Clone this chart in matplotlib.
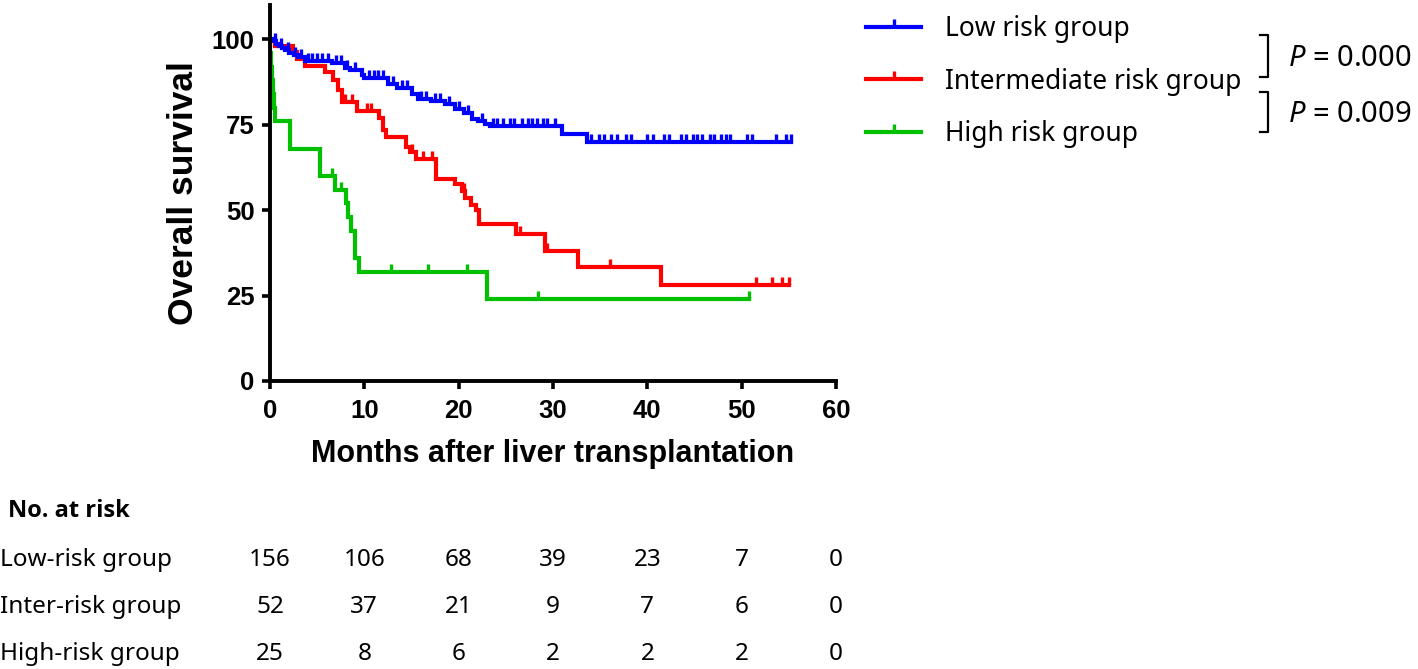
import numpy as np
import matplotlib
matplotlib.use("Agg")
import matplotlib.pyplot as plt
from matplotlib.path import Path
from matplotlib.lines import Line2D
from matplotlib import transforms

# ---- data ---------------------------------------------------------------
groups = ["Low risk group", "Intermediate risk group", "High risk group"]
colors = ["#0000FF", "#FF0000", "#00C000"]

low_t = [0, 0.3, 0.6, 1.0, 1.3, 1.6, 2.0, 2.5, 3.0, 3.7, 6.6, 7.9, 8.5, 9.7,
         10.0, 12.5, 13.5, 15.0, 15.7, 17.1, 18.5, 19.6, 20.6, 21.4, 22.0,
         22.8, 23.3, 31.0, 33.6]
low_s = [100, 99.4, 98.7, 98.1, 97.4, 96.8, 96.1, 95.5, 94.8, 93.5, 92.9,
         91.6, 90.9, 89.6, 88.6, 87.0, 85.6, 84.0, 82.5, 81.8, 81.0, 79.5,
         78.3, 76.7, 76.0, 75.2, 74.5, 72.2, 69.8]
low_end = 55.2
low_cens = [0.5, 1.2, 1.9, 2.6, 3.3, 4.0, 4.5, 5.0, 5.5, 6.2, 7.0, 7.5, 8.2,
            9.0, 10.5, 11.0, 11.5, 12.0, 13.0, 14.0, 14.5, 16.0, 16.5, 17.5,
            18.0, 19.0, 20.0, 21.0, 22.5, 23.6, 24.1, 24.7, 25.4, 25.9, 26.7,
            27.3, 27.8, 28.3, 28.9, 29.4, 30.2, 34.0, 34.9, 35.4, 36.2, 36.8,
            37.7, 38.3, 40.0, 40.6, 41.8, 42.3, 43.6, 44.1, 44.8, 45.3, 45.8,
            46.6, 47.1, 47.8, 48.3, 48.8, 50.6, 51.1, 53.6, 54.7, 55.2]

int_t = [0, 0.5, 2.4, 2.9, 3.7, 5.8, 6.7, 7.2, 7.6, 9.2, 11.6, 12.0, 12.3,
         14.4, 14.8, 15.5, 17.6, 19.6, 20.4, 20.7, 21.3, 21.8, 22.2, 26.1,
         29.1, 32.6, 41.5]
int_s = [100, 98.1, 96.2, 94.2, 92.3, 90.4, 88.0, 85.0, 81.5, 79.0, 77.0,
         73.5, 71.5, 68.6, 67.0, 65.0, 59.0, 57.5, 55.5, 53.6, 51.6, 50.0,
         46.0, 43.0, 38.0, 33.4, 28.0]
int_end = 55.0
int_cens = [8.0, 8.7, 10.3, 10.7, 15.1, 16.2, 17.2, 20.6, 26.5, 29.4, 36.0,
            51.5, 53.2, 54.3, 55.0]

high_t = [0, 0.05, 0.1, 0.2, 0.3, 0.4, 0.5, 2.1, 5.3, 6.9, 8.1, 8.3, 8.6,
          9.0, 9.4, 23.0]
high_s = [100, 96, 92, 88, 84, 80, 76, 68, 60, 56, 52, 48, 44, 36, 32, 24]
high_end = 50.8
high_cens = [6.6, 7.5, 12.8, 16.8, 20.9, 28.4, 50.8]

curves = [(low_t, low_s, low_end, low_cens),
          (int_t, int_s, int_end, int_cens),
          (high_t, high_s, high_end, high_cens)]

risk_times = [0, 10, 20, 30, 40, 50, 60]
risk_labels = ["Low-risk group", "Inter-risk group", "High-risk group"]
risk_counts = [[156, 106, 68, 39, 23, 7, 0],
               [52, 37, 21, 9, 7, 6, 0],
               [25, 8, 6, 2, 2, 2, 0]]
p_values = ["0.000", "0.009"]

# ---- style ----------------------------------------------------------------
plt.rcParams["mathtext.fontset"] = "custom"
plt.rcParams["mathtext.it"] = "Noto Sans:italic"
plt.rcParams["mathtext.rm"] = "Noto Sans"

W, H = 1418, 669
fig = plt.figure(figsize=(W / 100, H / 100), dpi=100)
ax = fig.add_axes([270 / W, 1 - 381 / H, 566 / W, 376 / H])

tick = Path([(0, 0), (0, 1)])  # upward censor tick

# draw high first so low ends up on top
for (t, s, end, cens), col in reversed(list(zip(curves, colors))):
    tt = np.append(t, end)
    ss = np.append(s, s[-1])
    ax.step(tt, ss, where="post", color=col, lw=3.0, solid_joinstyle="miter")
    idx = np.searchsorted(t, cens, side="right") - 1
    ax.plot(cens, np.asarray(s)[idx], ls="none", marker=tick, ms=12,
            mew=2.4, color=col)

ax.set_xlim(0, 60)
ax.set_ylim(0, 110)
ax.set_xticks(risk_times)
ax.set_yticks([0, 25, 50, 75, 100])
for sp in ["top", "right"]:
    ax.spines[sp].set_visible(False)
for sp in ["left", "bottom"]:
    ax.spines[sp].set_linewidth(2.8)
ax.tick_params(width=2.6, length=6, direction="out", pad=5)
ax.tick_params(axis="x", pad=7)
for lab in ax.get_xticklabels() + ax.get_yticklabels():
    lab.set_fontfamily("Liberation Sans")
    lab.set_fontweight("bold")
    lab.set_fontsize(18.5)

ax.set_ylabel("Overall survival", fontfamily="Liberation Sans",
              fontweight="bold", fontsize=25.5)
ax.yaxis.set_label_coords(-0.123, 0.5)
ax.set_xlabel("Months after liver transplantation",
              fontfamily="Liberation Sans", fontweight="bold", fontsize=22)
ax.xaxis.set_label_coords(0.5, -0.155)

# legend
handles = [Line2D([], [], color=c, lw=3.0, marker=tick, ms=12, mew=2.4)
           for c in colors]
fig.legend(handles, groups, loc="upper left",
           bbox_to_anchor=(866 / W, 1 - 15 / H), frameon=False,
           prop={"family": "Noto Sans", "size": 19},
           handlelength=2.1, handletextpad=0.9, labelspacing=0.93,
           borderpad=0, borderaxespad=0)

# p-value brackets
for (y0, y1), p in zip([(35, 77), (92, 132)], p_values):
    xs = [1260 / W, 1268 / W, 1268 / W, 1260 / W]
    ys = [1 - y0 / H, 1 - y0 / H, 1 - y1 / H, 1 - y1 / H]
    fig.add_artist(Line2D(xs, ys, transform=fig.transFigure, color="black",
                          lw=1.6))
    fig.text(1288 / W, 1 - ((y0 + y1) / 2 + 2) / H, r"$\mathit{P}$ = " + p,
             fontfamily="Noto Sans", fontsize=21, va="center", ha="left")

# number at risk table
blend = transforms.blended_transform_factory(ax.transData, fig.transFigure)
fig.text(8 / W, 1 - 511 / H, "No. at risk", fontfamily="Open Sans",
         fontweight="bold", fontsize=17, va="center", ha="left")
for row, (lab, counts) in enumerate(zip(risk_labels, risk_counts)):
    y = 1 - (560 + 47 * row) / H
    fig.text(0, y, lab, fontfamily="Noto Sans", fontsize=17.5,
             va="center", ha="left")
    for t, n in zip(risk_times, counts):
        ax.text(t, y, str(n), transform=blend, fontfamily="Noto Sans",
                fontsize=17.5, va="center", ha="center", clip_on=False)

fig.savefig("out.png", dpi=100)
